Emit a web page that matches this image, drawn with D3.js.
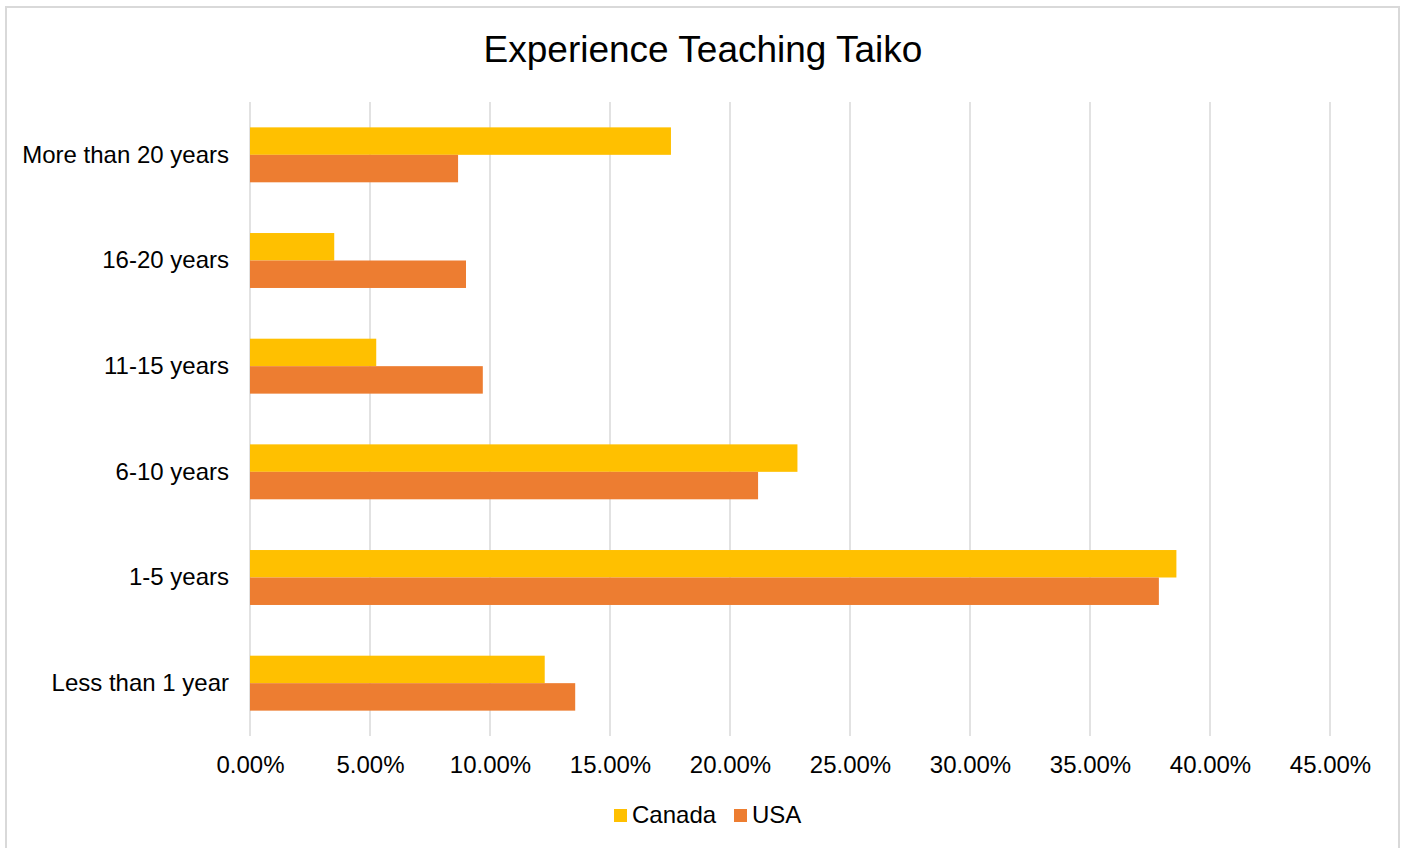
<!DOCTYPE html>
<html>
<head>
  <meta charset="UTF-8">
  <title>Experience Teaching Taiko</title>
  <script src="https://d3js.org/d3.v7.min.js"></script>
  <style>
    body { margin: 0; background: #fff; }
    text { font-family: "Liberation Sans", Arial, sans-serif; fill: #000; }
  </style>
</head>
<body>
  <svg width="1405" height="848"></svg>
  <script>
    // Data
    const categories = ['More than 20 years', '16-20 years', '11-15 years', '6-10 years', '1-5 years', 'Less than 1 year'];
    const seriesNames = ['Canada', 'USA'];
    const canada = [17.54, 3.51, 5.26, 22.81, 38.6, 12.28];
    const usa = [8.67, 9.0, 9.7, 21.17, 37.87, 13.55];
    const xTicks = [0, 5, 10, 15, 20, 25, 30, 35, 40, 45];
    const colors = ['#ffc000', '#ed7d31'];

    const margin = { top: 102, left: 250, right: 75, bottom: 112 };
    const W = 1405, H = 848;
    const width = W - margin.left - margin.right;
    const height = H - margin.top - margin.bottom;
    const font = '"Liberation Sans", Arial, sans-serif';

    const svg = d3.select('svg');

    // chart frame
    svg.append('rect')
      .attr('x', 6).attr('y', 7)
      .attr('width', 1393).attr('height', 860)
      .attr('fill', 'none')
      .attr('stroke', '#d9d9d9')
      .attr('stroke-width', 2);

    // title
    svg.append('text')
      .attr('x', 703).attr('y', 62)
      .attr('text-anchor', 'middle')
      .attr('font-size', '37px')
      .text('Experience Teaching Taiko');

    const g = svg.append('g')
      .attr('transform', `translate(${margin.left}, ${margin.top})`);

    const x = d3.scaleLinear().domain([0, 45]).range([0, width]);
    const y = d3.scaleBand().domain(categories).range([0, height]).paddingInner(0.48).paddingOuter(0.24);
    const ySub = d3.scaleBand().domain(seriesNames).range([0, y.bandwidth()]);

    // gridlines
    g.selectAll('.grid')
      .data(xTicks)
      .enter().append('line')
      .attr('class', 'grid')
      .attr('x1', d => x(d)).attr('x2', d => x(d))
      .attr('y1', 0).attr('y2', height)
      .attr('stroke', '#d9d9d9')
      .attr('stroke-width', 1.5);

    // bars
    const rows = categories.map((c, i) => ({ cat: c, values: [canada[i], usa[i]] }));
    const groups = g.selectAll('.row')
      .data(rows)
      .enter().append('g')
      .attr('transform', d => `translate(0, ${y(d.cat)})`);

    groups.selectAll('rect')
      .data(d => d.values.map((v, j) => ({ name: seriesNames[j], v: v, j: j })))
      .enter().append('rect')
      .attr('x', 0)
      .attr('y', d => ySub(d.name))
      .attr('width', d => x(d.v))
      .attr('height', ySub.bandwidth())
      .attr('fill', d => colors[d.j]);

    // x axis labels
    const xAxis = g.append('g')
      .attr('transform', `translate(0, ${height})`)
      .call(d3.axisBottom(x).tickValues(xTicks).tickFormat(d => d.toFixed(2) + '%').tickSize(0).tickPadding(20));
    xAxis.select('.domain').remove();
    xAxis.selectAll('text').attr('font-size', '24px').attr('font-family', font).attr('fill', '#000');

    // y axis labels
    const yAxis = g.append('g')
      .call(d3.axisLeft(y).tickSize(0).tickPadding(21));
    yAxis.select('.domain').remove();
    yAxis.selectAll('text').attr('font-size', '24px').attr('font-family', font).attr('fill', '#000');

    // legend
    const legendX = [614, 734];
    const legend = svg.append('g');
    seriesNames.forEach((name, i) => {
      legend.append('rect')
        .attr('x', legendX[i]).attr('y', 809)
        .attr('width', 13).attr('height', 13)
        .attr('fill', colors[i]);
      legend.append('text')
        .attr('x', legendX[i] + 18).attr('y', 823)
        .attr('font-size', '24px')
        .text(name);
    });
  </script>
</body>
</html>
